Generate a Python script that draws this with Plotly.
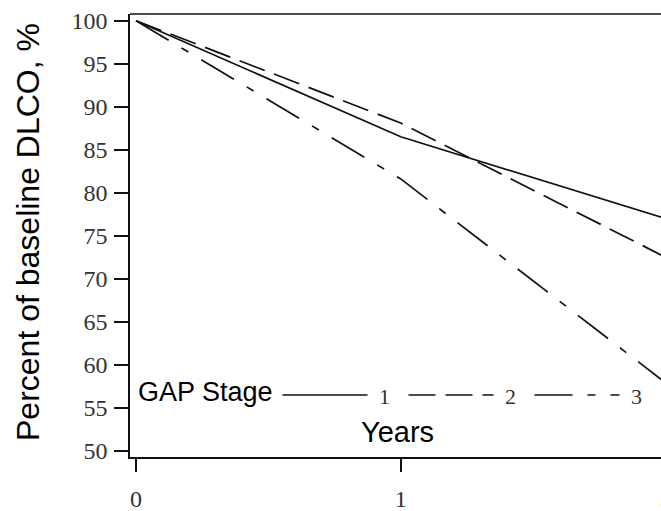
import plotly.graph_objects as go

# ---- data ----
years = [0, 1, 2]
stage_names = ["1", "2", "3"]
stage1 = [100, 86.5, 77.0]
stage2 = [100, 88.1, 72.5]
stage3 = [100, 81.6, 57.9]
series = [stage1, stage2, stage3]
x_tick_vals = [0, 1, 2]
x_tick_text = ["0", "1", "2"]
y_tick_vals = [50, 55, 60, 65, 70, 75, 80, 85, 90, 95, 100]
y_tick_text = [str(v) for v in y_tick_vals]

# ---- styling ----
dashes = ["solid", "27px,10px", "38px,15px,8px,15px"]
W, H = 661, 511
L, R, T, B = 130, 661, 14, 457
x_range = [-0.0227, 1.983]
y_range = [49.27, 100.78]
SANS = "Liberation Sans, Arial, sans-serif"
SERIF = "Liberation Serif, Times New Roman, serif"


def px_x(p):
    return (p - L) / (R - L)


def px_y(p):
    return (B - p) / (B - T)


fig = go.Figure()
for name, vals, d in zip(stage_names, series, dashes):
    fig.add_trace(go.Scatter(
        x=years, y=vals, mode="lines", name=name,
        line=dict(color="#111111", width=1.7, dash=d),
        showlegend=False, hoverinfo="skip",
    ))

shapes = []
annotations = []

# top frame line (right side cropped in reference)
shapes.append(dict(type="line", xref="paper", yref="paper", x0=0, x1=1.02, y0=1, y1=1,
                   line=dict(color="#111111", width=1.6)))

# manual legend
leg_y = px_y(395)
for i, (name, d) in enumerate(zip(stage_names, dashes)):
    start = 282.5 + i * 126
    shapes.append(dict(type="line", xref="paper", yref="paper",
                       x0=px_x(start), x1=px_x(start + 85), y0=leg_y, y1=leg_y,
                       line=dict(color="#111111", width=1.7, dash=d)))
    annotations.append(dict(xref="paper", yref="paper", x=px_x(start + 102), y=px_y(396),
                            text=name, showarrow=False, xanchor="center", yanchor="middle",
                            font=dict(family=SERIF, size=22, color="#333333")))

annotations.append(dict(xref="paper", yref="paper", x=px_x(136), y=px_y(392),
                        text="GAP Stage", showarrow=False, xanchor="left", yanchor="middle",
                        font=dict(family=SANS, size=27, color="#000000")))
annotations.append(dict(xref="paper", yref="paper", x=px_x(397), y=px_y(432),
                        text="Years", showarrow=False, xanchor="center", yanchor="middle",
                        font=dict(family=SANS, size=29, color="#000000")))
annotations.append(dict(xref="paper", yref="paper", x=px_x(28), y=px_y(232),
                        text="Percent of baseline DLCO, %", showarrow=False, textangle=-90,
                        xanchor="center", yanchor="middle",
                        font=dict(family=SANS, size=32, color="#000000")))
# last x tick label (cropped at right edge in reference)
x_last = x_tick_vals[-1]
annotations.append(dict(xref="paper", yref="paper",
                        x=(x_last - x_range[0]) / (x_range[1] - x_range[0]), y=px_y(498),
                        text=x_tick_text[-1], showarrow=False, xanchor="center", yanchor="middle",
                        font=dict(family=SERIF, size=24, color="#333333")))

fig.update_layout(
    template="none",
    width=W, height=H,
    margin=dict(l=L, r=W - R, t=T, b=H - B, pad=0),
    paper_bgcolor="white", plot_bgcolor="white",
    shapes=shapes, annotations=annotations,
    xaxis=dict(range=x_range, tickvals=x_tick_vals[:-1], ticktext=x_tick_text[:-1],
               ticks="outside", ticklen=13, tickwidth=1.5, tickcolor="#111111",
               showline=True, linecolor="#111111", linewidth=1.6, automargin=False,
               showgrid=False, zeroline=False, ticklabelstandoff=6,
               tickfont=dict(family=SERIF, size=24, color="#333333")),
    yaxis=dict(range=y_range, tickvals=y_tick_vals, ticktext=y_tick_text,
               ticks="outside", ticklen=14, tickwidth=1.5, tickcolor="#111111",
               showline=True, linecolor="#111111", linewidth=1.6, automargin=False,
               showgrid=False, zeroline=False, ticklabelstandoff=2,
               tickfont=dict(family=SERIF, size=24, color="#333333")),
)

fig.write_html("out.html", config={"displayModeBar": False},
               post_script="document.body.style.margin='0';document.body.style.overflow='hidden';")
